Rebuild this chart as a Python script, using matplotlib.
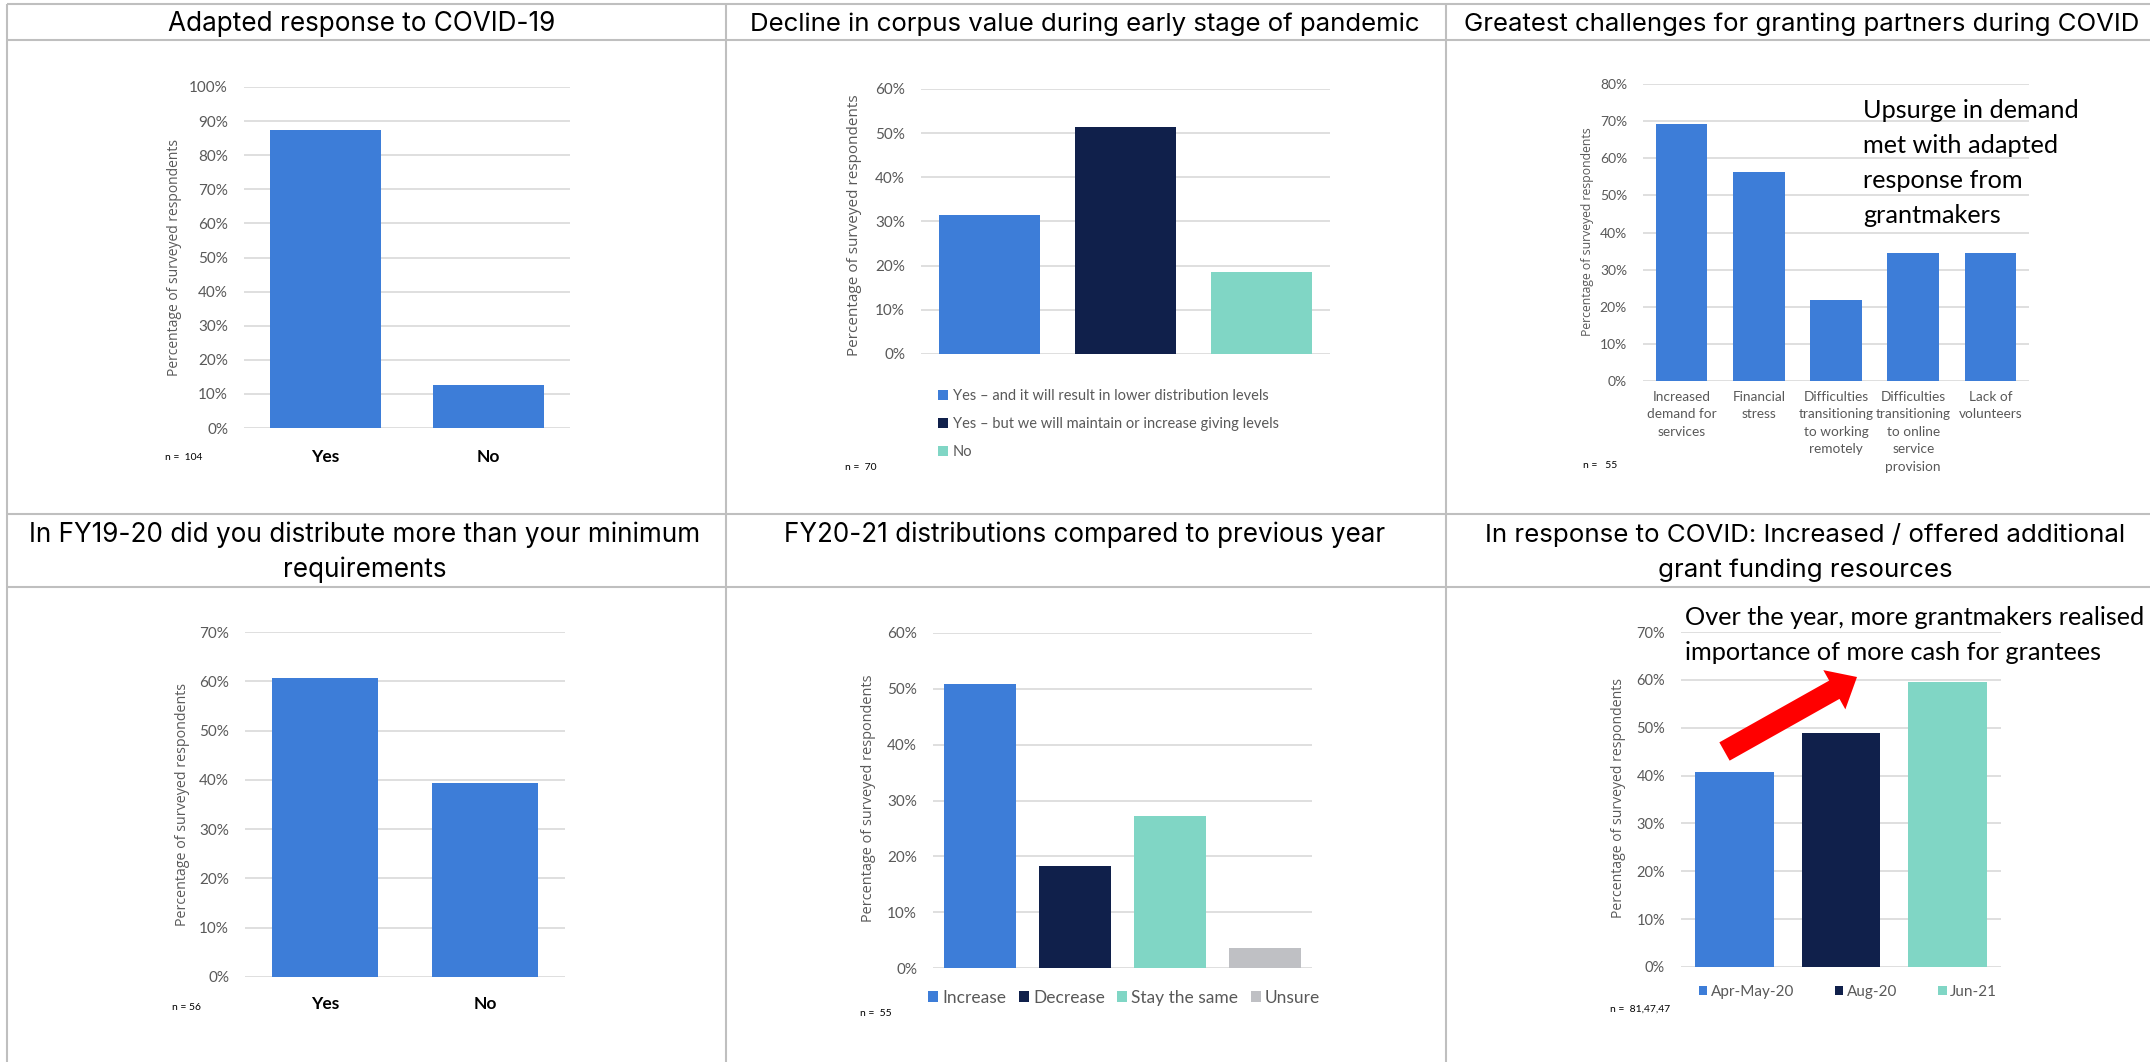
import numpy as np
import matplotlib
matplotlib.use("Agg")
import matplotlib.pyplot as plt
from matplotlib.patches import FancyArrow
from matplotlib.ticker import FuncFormatter

W, H = 2150, 1062
BLUE, NAVY, TEAL, GREY = "#3d7dd8", "#10204b", "#80d6c5", "#bfc0c4"
TXT = "#595959"
GRID = "#d9d9d9"
FRAME = "#bfbfbf"

# survey results, % of respondents
adapted_cats = ["Yes", "No"]
adapted_pct = [87.5, 12.5]

corpus_labels = ["Yes – and it will result in lower distribution levels",
                 "Yes – but we will maintain or increase giving levels",
                 "No"]
corpus_pct = [31.4, 51.4, 18.6]

challenge_cats = ["Increased\ndemand for\nservices",
                  "Financial\nstress",
                  "Difficulties\ntransitioning\nto working\nremotely",
                  "Difficulties\ntransitioning\nto online\nservice\nprovision",
                  "Lack of\nvolunteers"]
challenge_pct = [69.1, 56.4, 21.8, 34.5, 34.5]

min_req_cats = ["Yes", "No"]
min_req_pct = [60.7, 39.3]

fy21_labels = ["Increase", "Decrease", "Stay the same", "Unsure"]
fy21_pct = [50.9, 18.2, 27.3, 3.6]

funding_labels = ["Apr-May-20", "Aug-20", "Jun-21"]
funding_pct = [40.7, 48.9, 59.6]

sample_sizes = ["n =  104", "n =  70", "n =   55", "n = 56", "n =  55", "n =  81,47,47"]

plt.rcParams["font.family"] = ["Lato", "DejaVu Sans"]
fig = plt.figure(figsize=(W / 100, H / 100), dpi=100, facecolor="white")


def chart(x0, x1, y_top, y_zero, ymax, tick_size=11):
    # axes placed by pixel edges of the plot area (top gridline .. 0% line)
    ax = fig.add_axes([x0 / W, 1 - y_zero / H, (x1 - x0) / W, (y_zero - y_top) / H])
    ax.set_ylim(0, ymax)
    ax.set_yticks(np.arange(0, ymax + 1, 10))
    ax.yaxis.set_major_formatter(FuncFormatter(lambda v, _: f"{v:.0f}%"))
    ax.grid(axis="y", color=GRID, lw=1.2)
    ax.set_axisbelow(True)
    for sp in ax.spines.values():
        sp.set_visible(False)
    ax.tick_params(length=0, labelsize=tick_size, labelcolor=TXT, pad=11.5)
    return ax


def bars(ax, vals, width, colors):
    x = np.arange(len(vals))
    b = ax.bar(x, vals, width=width, color=colors)
    ax.set_xlim(-0.5, len(vals) - 0.5)
    ax.set_xticks(x)
    return b


# Adapted response
ax1 = chart(244, 570, 87, 428, 100)
bars(ax1, adapted_pct, 0.675, BLUE)
ax1.set_xticklabels(adapted_cats, fontweight="bold", color="black", fontsize=12.5)
ax1.tick_params(axis="x", pad=15)

# Corpus decline
ax2 = chart(921, 1330, 89, 354, 60)
b2 = bars(ax2, corpus_pct, 0.74, [BLUE, NAVY, TEAL])
ax2.set_xticks([])

# Partner challenges
ax3 = chart(1643, 2029, 84, 381, 80, tick_size=10)
bars(ax3, challenge_pct, 0.67, BLUE)
ax3.set_xticklabels(challenge_cats, fontsize=9.8, color=TXT, linespacing=1.55)
ax3.tick_params(axis="x", pad=7)

# Minimum requirements
ax4 = chart(245, 565, 632, 977, 70)
bars(ax4, min_req_pct, 0.66, BLUE)
ax4.set_xticklabels(min_req_cats, fontweight="bold", color="black", fontsize=12.5)
ax4.tick_params(axis="x", pad=14)

# FY20-21 distributions
ax5 = chart(933, 1312, 633, 968, 60)
b5 = bars(ax5, fy21_pct, 0.76, [BLUE, NAVY, TEAL, GREY])
ax5.set_xticks([])

# Additional grant funding
ax6 = chart(1681, 2001, 632, 967, 70, tick_size=10.5)
b6 = bars(ax6, funding_pct, 0.74, [BLUE, NAVY, TEAL])
ax6.set_xticks([])

# overlay in pixel coordinates for frame, titles and notes
fr = fig.add_axes([0, 0, 1, 1])
fr.set_xlim(0, W)
fr.set_ylim(H, 0)
fr.axis("off")
fr.patch.set_alpha(0)

leg_kw = dict(frameon=False, borderpad=0, borderaxespad=0, bbox_transform=fr.transData,
              labelcolor=TXT)
ax2.legend(b2.patches, corpus_labels, loc="upper left", bbox_to_anchor=(938, 389),
           fontsize=10.5, handlelength=0.7, handleheight=0.7, handletextpad=0.3,
           labelspacing=0.95, **leg_kw)
ax5.legend(b5.patches, fy21_labels, loc="center left", bbox_to_anchor=(928, 998),
           ncol=4, fontsize=12.5, handlelength=0.6, handleheight=0.6, handletextpad=0.23,
           columnspacing=0.7, **leg_kw)
ax6.legend(b6.patches, funding_labels, loc="center left", bbox_to_anchor=(1699, 992),
           ncol=3, fontsize=11, handlelength=0.55, handleheight=0.55, handletextpad=0.2,
           columnspacing=2.7, **leg_kw)

# table lines
for y in (4, 40, 514, 587):
    fr.plot([7, W], [y, y], color=FRAME, lw=1.5, solid_capstyle="butt")
for x in (7, 726, 1446):
    fr.plot([x, x], [4, H], color=FRAME, lw=1.5, solid_capstyle="butt")

fits = []  # (texts sharing a size, reference text, target length in px)

titles = [
    (362, 31, ["Adapted response to COVID-19"], 389),
    (1085, 31, ["Decline in corpus value during early stage of pandemic"], 674),
    (1802, 31, ["Greatest challenges for granting partners during COVID"], 679),
    (365, 542, ["In FY19-20 did you distribute more than your minimum", "requirements"], 674),
    (1085, 542, ["FY20-21 distributions compared to previous year"], 603),
    (1805, 542, ["In response to COVID: Increased / offered additional",
                 "grant funding resources"], 643),
]
for cx, base, lines, width in titles:
    ts = [fr.text(cx, base + 35 * i, s, ha="center", va="baseline", fontsize=16,
                  family=["Inter", "DejaVu Sans"], color="black")
          for i, s in enumerate(lines)]
    fits.append((ts, ts[0], width))

ylabels = [(174, 257, 240), (854, 225, 263), (1588, 232, 211),
           (182, 805, 246), (869, 798, 250), (1619, 798, 242)]
for x, y, length in ylabels:
    t = fr.text(x, y, "Percentage of surveyed respondents", rotation=90, ha="center",
                va="center", color=TXT, fontsize=9, family=["Open Sans", "DejaVu Sans"])
    fits.append(([t], t, length))

n_pos = [(165, 458), (845, 467), (1583, 466), (172, 1008), (860, 1014), (1610, 1009)]
for (x, y), s in zip(n_pos, sample_sizes):
    fr.text(x, y, s, ha="left", va="center", fontsize=7.5, color="black")

note3 = ["Upsurge in demand", "met with adapted", "response from", "grantmakers"]
ts = [fr.text(1863, 118 + 35 * i, s, ha="left", va="baseline", fontsize=17, color="black")
      for i, s in enumerate(note3)]
fits.append((ts, ts[0], 215))

note6 = ["Over the year, more grantmakers realised", "importance of more cash for grantees"]
ts = [fr.text(1685, 625 + 35 * i, s, ha="left", va="baseline", fontsize=17, color="black")
      for i, s in enumerate(note6)]
fits.append((ts, ts[0], 459))

fr.add_patch(FancyArrow(1724.5, 751.5, 1857 - 1724.5, 677 - 751.5, width=21,
                        head_width=45, head_length=26, length_includes_head=True,
                        color="#ff0000", lw=0))

# scale text sizes so each line spans its measured length
fig.canvas.draw()
r = fig.canvas.get_renderer()
for group, ref, target in fits:
    bb = ref.get_window_extent(r)
    k = target / max(bb.width, bb.height)
    for t in group:
        t.set_fontsize(t.get_fontsize() * k)

fig.savefig("out.png", dpi=100, facecolor="white")
